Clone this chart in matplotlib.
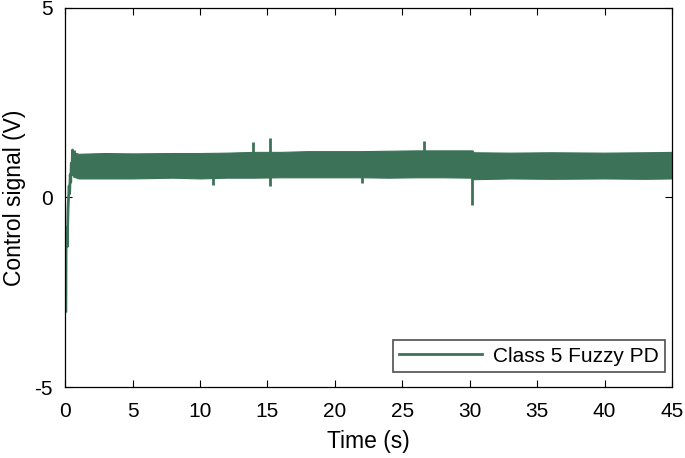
import matplotlib
matplotlib.use('Agg')
from matplotlib import pyplot as plt
import numpy as np

plt.rcParams['font.family'] = ['Liberation Sans', 'DejaVu Sans']
plt.rcParams['axes.unicode_minus'] = False

line_color = '#3c7358'

# start-up transient (time in s, control signal in V)
transient_t = [0.06, 0.08, 0.1, 0.13, 0.16, 0.19, 0.22, 0.26, 0.3, 0.34, 0.38, 0.42, 0.46, 0.5, 0.55, 0.6, 0.7]
transient_u = [-3.0, -0.8, -1.3, -0.9, -1.3, -0.8, -0.3, 0.0, 0.3, 0.1, 0.6, 0.4, 0.9, 0.6, 1.25, 0.6, 1.2]

# envelope of the noisy steady-state band
band_t = [0.6, 1, 3, 5, 8, 10, 12, 14, 16, 18, 20, 22, 24, 26, 28, 30.2, 30.3, 33, 36, 40, 43, 45]
band_hi = [1.2, 1.15, 1.17, 1.16, 1.17, 1.17, 1.18, 1.2, 1.2, 1.22, 1.22, 1.22, 1.23, 1.24, 1.24, 1.24, 1.19, 1.18, 1.19, 1.18, 1.19, 1.2]
band_lo = [0.55, 0.5, 0.5, 0.5, 0.52, 0.5, 0.52, 0.52, 0.53, 0.53, 0.53, 0.53, 0.52, 0.53, 0.53, 0.52, 0.48, 0.5, 0.49, 0.5, 0.49, 0.5]

# isolated spikes: time, upper value, lower value
spike_t = [11.0, 13.9, 15.2, 22.05, 26.6, 30.2]
spike_hi = [1.1, 1.45, 1.56, 1.1, 1.5, 1.1]
spike_lo = [0.32, 0.6, 0.29, 0.38, 0.6, -0.19]

fig, ax = plt.subplots(figsize=(6.85, 4.58), dpi=100)
fig.subplots_adjust(left=0.095, right=0.981, top=0.983, bottom=0.155)

ax.plot(transient_t, transient_u, color=line_color, lw=2, label='Class 5 Fuzzy PD')
ax.fill_between(band_t, band_lo, band_hi, color=line_color, lw=0.8, edgecolor=line_color)
ax.vlines(spike_t, spike_lo, spike_hi, color=line_color, lw=2)

ax.set_xlim(0, 45)
ax.set_ylim(-5, 5)
ax.set_xticks(np.arange(0, 46, 5))
ax.set_yticks([-5, 0, 5])
ax.tick_params(direction='in', labelsize=15, length=5, width=0.8, top=True, right=True)
ax.tick_params(axis='x', pad=11)
ax.tick_params(axis='y', pad=9)
for s in ax.spines.values():
    s.set_linewidth(0.9)

ax.set_xlabel('Time (s)', fontsize=16.5, labelpad=6)
ax.set_ylabel('Control signal (V)', fontsize=16.5, labelpad=6)

leg = ax.legend(loc='lower right', bbox_to_anchor=(0.988, 0.04), borderaxespad=0,
                fontsize=15, fancybox=False, edgecolor='#222222',
                handlelength=4.0, borderpad=0.3, handletextpad=0.5)
leg.get_frame().set_linewidth(1.2)

plt.savefig('out.png', dpi=100)
